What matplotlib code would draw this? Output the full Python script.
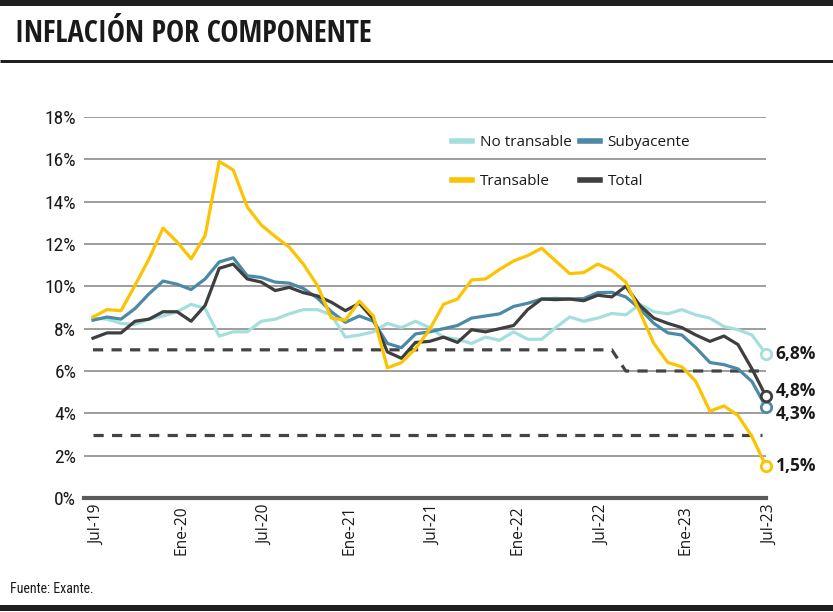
import matplotlib
matplotlib.use('Agg')
import matplotlib.pyplot as plt
import matplotlib.transforms as mtransforms
from matplotlib.lines import Line2D
from matplotlib import font_manager as fm

# ---------------- data ----------------
months = list(range(49))  # Jul-19 ... Jul-23
tick_pos = [0, 6, 12, 18, 24, 30, 36, 42, 48]
tick_labels = ['Jul-19', 'Ene-20', 'Jul-20', 'Ene-21', 'Jul-21',
               'Ene-22', 'Jul-22', 'Ene-23', 'Jul-23']
y_ticks = [0, 2, 4, 6, 8, 10, 12, 14, 16, 18]
y_tick_labels = ['0%', '2%', '4%', '6%', '8%', '10%', '12%', '14%', '16%', '18%']

no_transable = [8.5, 8.45, 8.25, 8.2, 8.45, 8.6, 8.8, 9.15, 8.95, 7.65,
                7.85, 7.85, 8.35, 8.45, 8.7, 8.9, 8.9, 8.65, 7.6, 7.7,
                7.85, 8.25, 8.05, 8.35, 8.05, 7.6, 7.5, 7.3, 7.6, 7.45,
                7.85, 7.5, 7.5, 8.05, 8.55, 8.35, 8.5, 8.72, 8.65, 9.15,
                8.8, 8.7, 8.9, 8.65, 8.5, 8.1, 7.95, 7.7, 6.8]
subyacente = [8.4, 8.55, 8.45, 8.95, 9.65, 10.25, 10.1, 9.85, 10.35, 11.15,
              11.35, 10.5, 10.42, 10.2, 10.15, 9.9, 9.45, 8.8, 8.3, 8.6,
              8.35, 7.3, 7.1, 7.75, 7.85, 8.0, 8.15, 8.5, 8.6, 8.7,
              9.05, 9.2, 9.4, 9.43, 9.4, 9.42, 9.7, 9.72, 9.5, 8.95,
              8.25, 7.8, 7.7, 7.1, 6.4, 6.3, 6.1, 5.5, 4.3]
transable = [8.55, 8.9, 8.85, 10.05, 11.3, 12.75, 12.1, 11.3, 12.4, 15.9,
             15.5, 13.75, 12.9, 12.35, 11.85, 11.05, 10.05, 8.5, 8.4, 9.3,
             8.6, 6.15, 6.4, 7.05, 7.95, 9.15, 9.4, 10.3, 10.35, 10.8,
             11.2, 11.45, 11.8, 11.2, 10.6, 10.65, 11.05, 10.75, 10.2, 8.8,
             7.3, 6.4, 6.2, 5.5, 4.1, 4.35, 3.9, 2.9, 1.5]
total = [7.55, 7.8, 7.8, 8.35, 8.45, 8.8, 8.8, 8.35, 9.1, 10.85,
         11.05, 10.35, 10.2, 9.8, 9.95, 9.7, 9.55, 9.25, 8.85, 9.2,
         8.45, 6.9, 6.6, 7.35, 7.4, 7.6, 7.35, 7.95, 7.85, 8.0,
         8.15, 8.9, 9.4, 9.37, 9.4, 9.32, 9.58, 9.5, 10.0, 9.1,
         8.5, 8.25, 8.05, 7.7, 7.4, 7.65, 7.25, 6.1, 4.8]

band_upper_x = [0, 37, 38, 48]
band_upper = [7, 7, 6, 6]
band_lower_x = [0, 47.7]
band_lower = [3, 3]

end_labels = ['6,8%', '4,3%', '1,5%', '4,8%']

# ---------------- fonts ----------------
def _w(f):
    w = f.weight
    if isinstance(w, str):
        w = {'bold': 700, 'normal': 400, 'regular': 400, 'book': 400,
             'medium': 500, 'semibold': 600, 'light': 300, 'heavy': 800,
             'black': 900, 'extra bold': 800, 'demibold': 600}.get(w.lower(), 400)
    return w

def _stretch(f):
    s = f.stretch
    if isinstance(s, str):
        return s.lower()
    return 'normal'

def pick(cands, bold):
    fl = fm.fontManager.ttflist
    for name, need in cands:
        for f in fl:
            if f.name != name or f.style != 'normal':
                continue
            st = _stretch(f)
            if need == 'semi' and st != 'semi-condensed':
                continue
            if need == 'cond' and 'condensed' not in st and 'narrow' not in st:
                continue
            w = _w(f)
            if bold and w < 600:
                continue
            if not bold and (w >= 600 or w < 350):
                continue
            return fm.FontProperties(fname=f.fname)
    return fm.FontProperties(family='DejaVu Sans', weight='bold' if bold else 'normal')

TITLE_CANDS = [('Open Sans', 'semi'), ('Open Sans SemiCondensed', None),
               ('Noto Sans', 'semi'), ('Noto Sans SemiCondensed', None),
               ('Open Sans Condensed', None), ('Open Sans', 'cond'),
               ('Noto Sans Condensed', None), ('Noto Sans', 'cond'),
               ('Roboto Condensed', None), ('Liberation Sans Narrow', None),
               ('DejaVu Sans', 'cond'), ('Open Sans', None)]
COND_CANDS = [('Open Sans Condensed', None), ('Open Sans', 'cond'),
              ('Noto Sans Condensed', None), ('Noto Sans', 'cond'),
              ('Roboto Condensed', None), ('Liberation Sans Narrow', None),
              ('DejaVu Sans', 'cond'), ('Open Sans', None)]
FP_TITLE = pick(TITLE_CANDS, True)
FP_YT = pick(TITLE_CANDS, False)
FP_FOOT = pick(COND_CANDS, False)
FP_SANS = pick([('Open Sans', None)], False)
FP_SANS_B = pick([('Open Sans', None)], True)

def fp(base, size):
    p = base.copy()
    p.set_size(size)
    return p

# ---------------- style ----------------
C_NT = '#a5dfdd'
C_SUB = '#4a8aa6'
C_TR = '#fbc300'
C_TOT = '#3f3f3f'

W, H = 833, 612
fig = plt.figure(figsize=(W / 100, H / 100), dpi=100)
fig.patch.set_facecolor('white')

ax_l, ax_r, ax_t, ax_b = 84, 766, 117, 498
ax = fig.add_axes([ax_l / W, 1 - ax_b / H, (ax_r - ax_l) / W, (ax_b - ax_t) / H])
ax.set_xlim(-0.64, 48)
ax.set_ylim(0, 18)

for s in ax.spines.values():
    s.set_visible(False)
ax.set_yticks(y_ticks)
ax.set_yticklabels(y_tick_labels, color='#1a1a1a')
for lab in ax.get_yticklabels():
    lab.set_fontproperties(fp(FP_YT, 14))
ax.set_xticks(tick_pos)
ax.set_xticklabels(tick_labels, rotation=90, color='#1a1a1a', va='top', ha='center')
ax.tick_params(axis='both', length=0)
ax.tick_params(axis='y', pad=5.5)
ax.tick_params(axis='x', pad=5)
off = mtransforms.ScaledTranslation(0.04, 0, fig.dpi_scale_trans)
for lab in ax.get_xticklabels():
    lab.set_fontproperties(fp(FP_SANS, 11.2))
    lab.set_transform(lab.get_transform() + off)

ax.yaxis.grid(True, color='#8c8c8c', linewidth=1.2)
ax.xaxis.grid(False)
ax.set_axisbelow(True)
ax.axhline(0, color='#5a5a5a', linewidth=3, zorder=2, clip_on=False)

# target band
ax.plot(band_upper_x, band_upper, color='#444444', lw=2.3, dashes=(3.2, 2.6), zorder=3)
ax.plot(band_lower_x, band_lower, color='#444444', lw=2.3, dashes=(3.2, 2.6), zorder=3)

lw = 2.3
l_nt, = ax.plot(months, no_transable, color=C_NT, lw=lw, zorder=4, solid_joinstyle='round')
l_sub, = ax.plot(months, subyacente, color=C_SUB, lw=lw, zorder=5, solid_joinstyle='round')
l_tot, = ax.plot(months, total, color=C_TOT, lw=lw, zorder=6, solid_joinstyle='round')
l_tr, = ax.plot(months, transable, color=C_TR, lw=lw, zorder=7, solid_joinstyle='round')

# end markers
for series, col in [(no_transable, C_NT), (subyacente, C_SUB), (transable, C_TR), (total, C_TOT)]:
    ax.plot(months[-1], series[-1], 'o', ms=7.5, mfc='#fbfbf3', mec=col, mew=2.0,
            zorder=9, clip_on=False)

# end labels
label_series = [no_transable, subyacente, transable, total]
label_offsets = [0, -5, 0, 4]
for txt, series, dy in zip(end_labels, label_series, label_offsets):
    ax.annotate(txt, xy=(months[-1], series[-1]), xytext=(7, dy),
                textcoords='offset points', ha='left', va='center',
                fontproperties=fp(FP_SANS_B, 12.5), color='#1a1a1a',
                annotation_clip=False)

# legend
handles = [l_nt, l_tr, l_sub, l_tot]
labels = ['No transable', 'Transable', 'Subyacente', 'Total']
leg_handles = [Line2D([0], [0], color=h.get_color(), lw=4) for h in handles]
leg = ax.legend(leg_handles, labels, ncol=2, loc='upper left',
                bbox_to_anchor=((455 - ax_l) / (ax_r - ax_l) - 0.004, (ax_b - 135) / (ax_b - ax_t)),
                frameon=False, prop=fp(FP_SANS, 11),
                handlelength=1.3, handletextpad=0.5, columnspacing=0.55,
                labelspacing=1.6, borderpad=0, borderaxespad=0)
for t in leg.get_texts():
    t.set_color('#1a1a1a')

# header / footer rules
def hrule(y_px, lw_px, color):
    fig.add_artist(Line2D([0, 1], [1 - y_px / H, 1 - y_px / H], transform=fig.transFigure,
                          color=color, linewidth=lw_px * 0.72, solid_capstyle='butt'))

hrule(3, 6, '#1f1f1f')
hrule(60.5, 3, '#1f1f1f')
hrule(608, 6, '#1f1f1f')

title = fig.text(15 / W, 1 - 34 / H, 'INFLACIÓN POR COMPONENTE', fontproperties=fp(FP_TITLE, 18),
                 color='#1a1a1a', ha='left', va='center')
fig.text(10 / W, 1 - 589 / H, 'Fuente: Exante.', fontproperties=fp(FP_FOOT, 10),
         color='#1a1a1a', ha='left', va='center')

# fit title width to the reference (~359 px)
fig.canvas.draw()
bw = title.get_window_extent(renderer=fig.canvas.get_renderer()).width
if bw > 0:
    title.set_fontsize(max(14, min(24, 18 * 359 / bw)))

fig.savefig('out.png', dpi=100, facecolor='white')
